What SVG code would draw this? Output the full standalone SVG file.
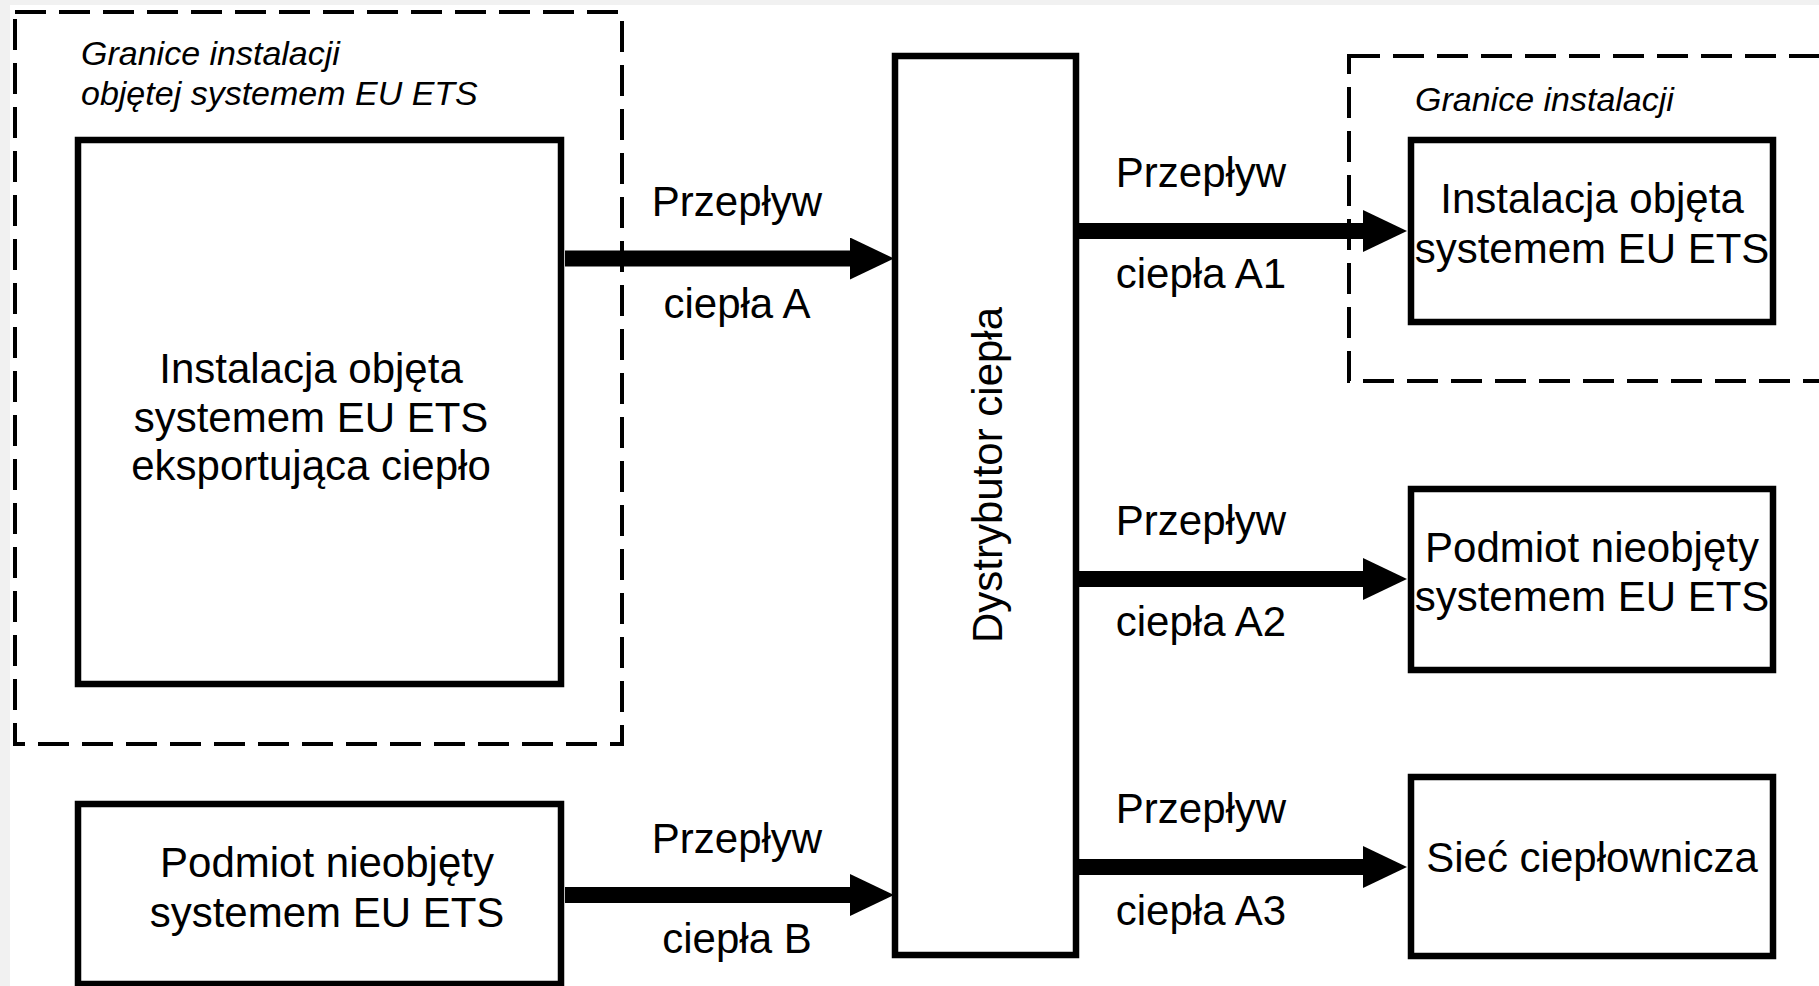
<svg xmlns="http://www.w3.org/2000/svg" width="1819" height="986" viewBox="0 0 1819 986">
<defs>
<style>
.box{fill:#fff;stroke:#000;stroke-width:6.5}
.dash{fill:none;stroke:#000;stroke-width:4;stroke-dasharray:31 13}
.t{font-family:"Liberation Sans",Arial,sans-serif;font-size:42px;fill:#000;text-anchor:middle}
.it{font-family:"Liberation Sans",Arial,sans-serif;font-size:34px;font-style:italic;fill:#000}
.conn{stroke:#000;stroke-width:16;fill:none;marker-end:url(#ah)}
</style>
<marker id="ah" markerUnits="userSpaceOnUse" markerWidth="44" markerHeight="42" refX="0" refY="21" orient="auto"><path d="M0,0 L44,21 L0,42 Z" fill="#000"/></marker>
</defs>
<rect width="1819" height="986" fill="#f1f1f1"/>
<rect x="10" y="5" width="1809" height="981" fill="#fff"/>

<g id="boundary-left">
<rect class="dash" x="15" y="12" width="607" height="732"/>
<text class="it" x="81" y="65">Granice instalacji</text>
<text class="it" x="81" y="105">objętej systemem EU ETS</text>
</g>

<g id="boundary-right">
<rect class="dash" x="1349" y="56" width="520" height="325"/>
<text class="it" x="1415" y="111">Granice instalacji</text>
</g>

<g id="connectors">
<path class="conn" d="M565,258.5 L850,258.5"/>
<path class="conn" d="M565,895 L850,895"/>
<path class="conn" d="M1077,231 L1363,231"/>
<path class="conn" d="M1077,579 L1363,579"/>
<path class="conn" d="M1077,867 L1363,867"/>
<text class="t" x="737" y="216">Przepływ</text>
<text class="t" x="737" y="318">ciepła A</text>
<text class="t" x="737" y="853">Przepływ</text>
<text class="t" x="737" y="953">ciepła B</text>
<text class="t" x="1201" y="187">Przepływ</text>
<text class="t" x="1201" y="288">ciepła A1</text>
<text class="t" x="1201" y="535">Przepływ</text>
<text class="t" x="1201" y="636">ciepła A2</text>
<text class="t" x="1201" y="823">Przepływ</text>
<text class="t" x="1201" y="925">ciepła A3</text>
</g>

<g id="node-exporter">
<rect class="box" x="78" y="140" width="483" height="544"/>
<text class="t" x="311" y="383">Instalacja objęta</text>
<text class="t" x="311" y="432">systemem EU ETS</text>
<text class="t" x="311" y="480">eksportująca ciepło</text>
</g>

<g id="node-non-ets-source">
<rect class="box" x="78" y="804" width="483" height="180"/>
<text class="t" x="327" y="877">Podmiot nieobjęty</text>
<text class="t" x="327" y="927">systemem EU ETS</text>
</g>

<g id="node-distributor">
<rect class="box" x="895" y="56" width="181" height="899"/>
<text class="t" transform="translate(1002,475) rotate(-90)" x="0" y="0">Dystrybutor ciepła</text>
</g>

<g id="node-ets-installation">
<rect class="box" x="1411" y="140" width="362" height="182"/>
<text class="t" x="1592" y="213">Instalacja objęta</text>
<text class="t" x="1592" y="263">systemem EU ETS</text>
</g>

<g id="node-non-ets-consumer">
<rect class="box" x="1411" y="489" width="362" height="181"/>
<text class="t" x="1592" y="562">Podmiot nieobjęty</text>
<text class="t" x="1592" y="611">systemem EU ETS</text>
</g>

<g id="node-district-heating">
<rect class="box" x="1411" y="777" width="362" height="179"/>
<text class="t" x="1592" y="872">Sieć ciepłownicza</text>
</g>
</svg>
